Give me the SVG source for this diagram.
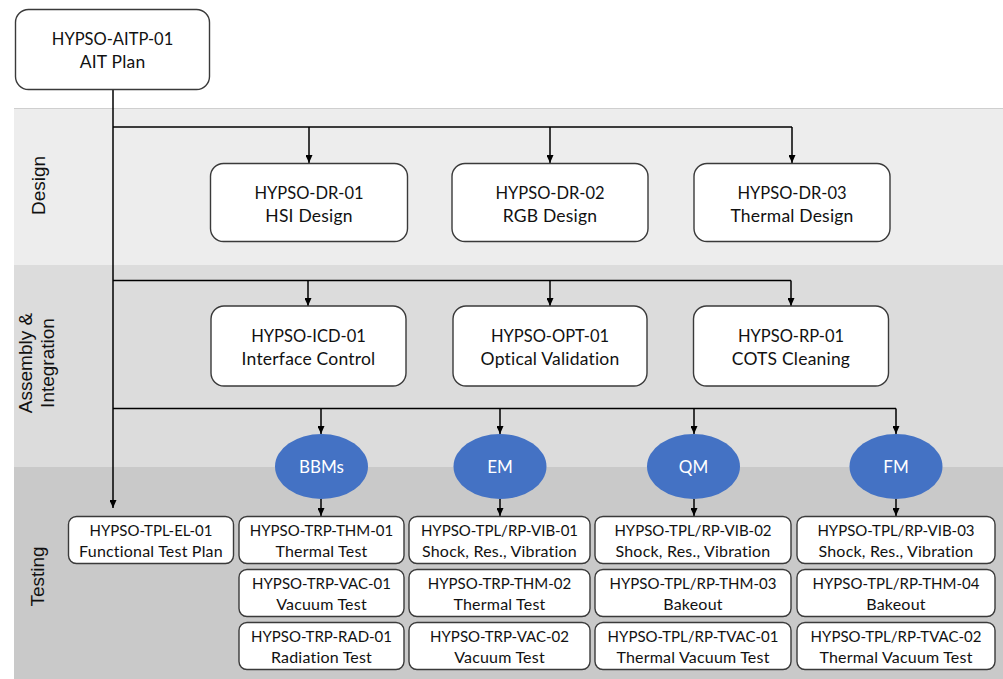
<svg xmlns="http://www.w3.org/2000/svg" width="1003" height="679" viewBox="0 0 1003 679">
<style>
.bg{stroke:none}
.box{fill:#fff;stroke:#3a3a3a;stroke-width:1.4}
.t{font-family:Lato,"Open Sans",sans-serif;font-size:16.5px;fill:#111;text-anchor:middle}
.t2{font-family:Lato,"Open Sans",sans-serif;font-size:17.5px;fill:#111;text-anchor:middle;letter-spacing:0.2px}
.ts{font-family:Lato,"Open Sans",sans-serif;font-size:15px;fill:#111;text-anchor:middle}
.ts2{font-family:Lato,"Open Sans",sans-serif;font-size:16px;fill:#111;text-anchor:middle;letter-spacing:0.2px}
.lab{font-family:"Liberation Sans",Arial,sans-serif;font-size:19px;fill:#111;text-anchor:middle}
.ell{fill:#4472c4;stroke:none}
.et{font-family:Lato,"Open Sans",sans-serif;font-size:17px;fill:#fff;text-anchor:middle}
.c{fill:none;stroke:#000;stroke-width:1.5}
</style>
<defs>
<marker id="ah" markerUnits="userSpaceOnUse" markerWidth="8" markerHeight="7" refX="8" refY="3.5" orient="auto">
<path d="M0,0 L8,3.5 L0,7 z" fill="#000"/>
</marker>
</defs>
<rect width="1003" height="679" fill="#fff"/>
<g id="bands">
<rect class="bg" x="14" y="108" width="989" height="157" fill="#ededed"/>
<line x1="14" y1="108.5" x2="1003" y2="108.5" stroke="#cfcfcf" stroke-width="1"/>
<rect class="bg" x="14" y="265" width="989" height="202" fill="#dcdcdc"/>
<rect class="bg" x="14" y="467" width="989" height="212" fill="#c9c9c9"/>
<text class="lab" transform="translate(45,185.5) rotate(-90)">Design</text>
<text class="lab" transform="translate(32,363) rotate(-90)">Assembly &amp;</text>
<text class="lab" transform="translate(54,363) rotate(-90)">Integration</text>
<text class="lab" transform="translate(44,576.5) rotate(-90)">Testing</text>
</g>
<g id="connectors">
<path class="c" d="M113 89 V508" marker-end="url(#ah)"/>
<path class="c" d="M113 127 H792"/>
<path class="c" d="M309 127 V163" marker-end="url(#ah)"/>
<path class="c" d="M550 127 V163" marker-end="url(#ah)"/>
<path class="c" d="M792 127 V163" marker-end="url(#ah)"/>
<path class="c" d="M113 280.5 H791"/>
<path class="c" d="M308 280.5 V306" marker-end="url(#ah)"/>
<path class="c" d="M550 280.5 V306" marker-end="url(#ah)"/>
<path class="c" d="M791 280.5 V306" marker-end="url(#ah)"/>
<path class="c" d="M113 408.5 H896"/>
<path class="c" d="M321 408.5 V434" marker-end="url(#ah)"/>
<path class="c" d="M500 408.5 V434" marker-end="url(#ah)"/>
<path class="c" d="M694 408.5 V434" marker-end="url(#ah)"/>
<path class="c" d="M896 408.5 V434" marker-end="url(#ah)"/>
<path class="c" d="M321 499 V516" marker-end="url(#ah)"/>
<path class="c" d="M500 499 V516" marker-end="url(#ah)"/>
<path class="c" d="M694 499 V516" marker-end="url(#ah)"/>
<path class="c" d="M896 499 V516" marker-end="url(#ah)"/>
</g>
<g id="aitp">
<rect class="box" x="15.5" y="9.5" width="194" height="80" rx="13"/>
<text class="t" x="112.5" y="45">HYPSO-AITP-01</text>
<text class="t2" x="112.5" y="68">AIT Plan</text>
</g>
<g id="dr01">
<rect class="box" x="210.5" y="163.5" width="197" height="78" rx="13"/>
<text class="t" x="309" y="198.5">HYPSO-DR-01</text>
<text class="t2" x="309" y="221.5">HSI Design</text>
</g>
<g id="dr02">
<rect class="box" x="452" y="163.5" width="196" height="78" rx="13"/>
<text class="t" x="550" y="198.5">HYPSO-DR-02</text>
<text class="t2" x="550" y="221.5">RGB Design</text>
</g>
<g id="dr03">
<rect class="box" x="694" y="163.5" width="196" height="78" rx="13"/>
<text class="t" x="792" y="198.5">HYPSO-DR-03</text>
<text class="t2" x="792" y="221.5">Thermal Design</text>
</g>
<g id="icd01">
<rect class="box" x="211" y="306" width="195" height="80" rx="13"/>
<text class="t" x="308.5" y="342">HYPSO-ICD-01</text>
<text class="t2" x="308.5" y="365">Interface Control</text>
</g>
<g id="opt01">
<rect class="box" x="453" y="306" width="194" height="80" rx="13"/>
<text class="t" x="550" y="342">HYPSO-OPT-01</text>
<text class="t2" x="550" y="365">Optical Validation</text>
</g>
<g id="rp01">
<rect class="box" x="693.5" y="306" width="195" height="80" rx="13"/>
<text class="t" x="791" y="342">HYPSO-RP-01</text>
<text class="t2" x="791" y="365">COTS Cleaning</text>
</g>
<g id="bbms">
<ellipse class="ell" cx="321.5" cy="466.5" rx="46.5" ry="32.5"/>
<text class="et" x="321.5" y="472.5">BBMs</text>
</g>
<g id="em">
<ellipse class="ell" cx="500" cy="466.5" rx="46.5" ry="32.5"/>
<text class="et" x="500" y="472.5">EM</text>
</g>
<g id="qm">
<ellipse class="ell" cx="693.5" cy="466.5" rx="46.5" ry="32.5"/>
<text class="et" x="693.5" y="472.5">QM</text>
</g>
<g id="fm">
<ellipse class="ell" cx="896" cy="466.5" rx="46.5" ry="32.5"/>
<text class="et" x="896" y="472.5">FM</text>
</g>
<g id="tpl-el-01">
<rect class="box" x="68.5" y="516.5" width="165" height="47" rx="8"/>
<text class="ts" x="151" y="536">HYPSO-TPL-EL-01</text>
<text class="ts2" x="151" y="557">Functional Test Plan</text>
</g>
<g id="trp-thm-01">
<rect class="box" x="239" y="516.5" width="165" height="47" rx="8"/>
<text class="ts" x="321.5" y="536">HYPSO-TRP-THM-01</text>
<text class="ts2" x="321.5" y="557">Thermal Test</text>
</g>
<g id="trp-vac-01">
<rect class="box" x="239" y="569.5" width="165" height="47" rx="8"/>
<text class="ts" x="321.5" y="589">HYPSO-TRP-VAC-01</text>
<text class="ts2" x="321.5" y="610">Vacuum Test</text>
</g>
<g id="trp-rad-01">
<rect class="box" x="239" y="622.5" width="165" height="47" rx="8"/>
<text class="ts" x="321.5" y="642">HYPSO-TRP-RAD-01</text>
<text class="ts2" x="321.5" y="663">Radiation Test</text>
</g>
<g id="vib-01">
<rect class="box" x="409" y="516.5" width="181" height="47" rx="8"/>
<text class="ts" x="499.5" y="536">HYPSO-TPL/RP-VIB-01</text>
<text class="ts2" x="499.5" y="557">Shock, Res., Vibration</text>
</g>
<g id="trp-thm-02">
<rect class="box" x="409" y="569.5" width="181" height="47" rx="8"/>
<text class="ts" x="499.5" y="589">HYPSO-TRP-THM-02</text>
<text class="ts2" x="499.5" y="610">Thermal Test</text>
</g>
<g id="trp-vac-02">
<rect class="box" x="409" y="622.5" width="181" height="47" rx="8"/>
<text class="ts" x="499.5" y="642">HYPSO-TRP-VAC-02</text>
<text class="ts2" x="499.5" y="663">Vacuum Test</text>
</g>
<g id="vib-02">
<rect class="box" x="595" y="516.5" width="196" height="47" rx="8"/>
<text class="ts" x="693" y="536">HYPSO-TPL/RP-VIB-02</text>
<text class="ts2" x="693" y="557">Shock, Res., Vibration</text>
</g>
<g id="thm-03">
<rect class="box" x="595" y="569.5" width="196" height="47" rx="8"/>
<text class="ts" x="693" y="589">HYPSO-TPL/RP-THM-03</text>
<text class="ts2" x="693" y="610">Bakeout</text>
</g>
<g id="tvac-01">
<rect class="box" x="595" y="622.5" width="196" height="47" rx="8"/>
<text class="ts" x="693" y="642">HYPSO-TPL/RP-TVAC-01</text>
<text class="ts2" x="693" y="663">Thermal Vacuum Test</text>
</g>
<g id="vib-03">
<rect class="box" x="797" y="516.5" width="198" height="47" rx="8"/>
<text class="ts" x="896" y="536">HYPSO-TPL/RP-VIB-03</text>
<text class="ts2" x="896" y="557">Shock, Res., Vibration</text>
</g>
<g id="thm-04">
<rect class="box" x="797" y="569.5" width="198" height="47" rx="8"/>
<text class="ts" x="896" y="589">HYPSO-TPL/RP-THM-04</text>
<text class="ts2" x="896" y="610">Bakeout</text>
</g>
<g id="tvac-02">
<rect class="box" x="797" y="622.5" width="198" height="47" rx="8"/>
<text class="ts" x="896" y="642">HYPSO-TPL/RP-TVAC-02</text>
<text class="ts2" x="896" y="663">Thermal Vacuum Test</text>
</g>
</svg>
